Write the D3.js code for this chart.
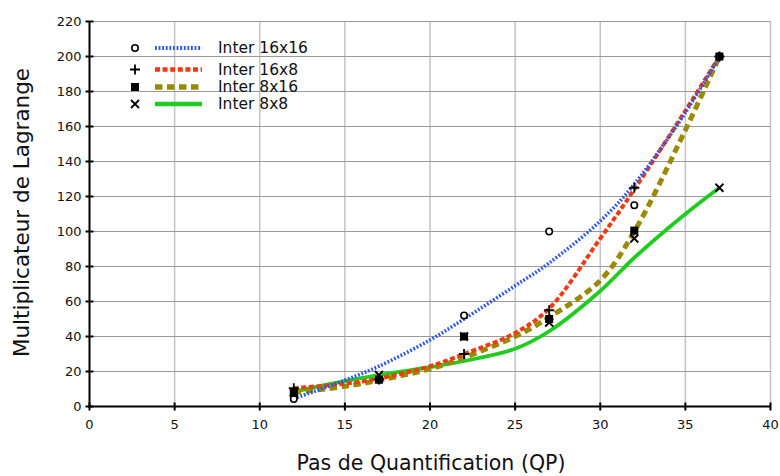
<!DOCTYPE html>
<html><head><meta charset="utf-8">
<script src="https://cdn.jsdelivr.net/npm/d3@7"></script>
<style>body{margin:0;background:#fff}svg{display:block}</style>
</head><body>
<svg id="c" width="780" height="476"></svg>
<script>
// Data
const seriesNames = ["Inter 16x16", "Inter 16x8", "Inter 8x16", "Inter 8x8"];
const qp = [12, 17, 22, 27, 32, 37];
const pts16x16 = [4.3, 15.5, 52, 100, 115, 200];
const pts16x8  = [10.5, 15.5, 30, 55, 125, 200];
const pts8x16  = [7.7, 15.3, 40, 50, 100.5, 200];
const pts8x8   = [8.0, 18, 40, 48, 96, 125];
// Fitted trend curves
const curveQP = [12, 15, 17, 20, 22, 25, 27, 30, 32, 35, 37];
const fit16x16 = [4.5, 15, 23, 38, 50, 69, 82, 106, 127, 168, 200];
const fit16x8  = [10.5, 13, 16, 23, 30, 42, 56, 96, 124, 169, 200];
const fit8x16  = [8, 11.5, 15, 21.5, 28, 40, 51, 72, 100, 158, 200];
const fit8x8   = [8.5, 14.5, 18, 22.5, 26, 33, 43, 66, 85, 110, 125];
const xTicks = [0, 5, 10, 15, 20, 25, 30, 35, 40];
const yTicks = [0, 20, 40, 60, 80, 100, 120, 140, 160, 180, 200, 220];

const svg = d3.select("#c");
const x = d3.scaleLinear().domain([0, 40]).range([89.5, 770.5]);
const y = d3.scaleLinear().domain([0, 220]).range([406.5, 21.5]);
const font = "'DejaVu Sans', sans-serif";

// grid
svg.append("g").selectAll("line").data(xTicks.filter(d => d > 0)).join("line")
  .attr("x1", d => x(d)).attr("x2", d => x(d)).attr("y1", y(0)).attr("y2", y(220))
  .attr("stroke", "#c4c4c4").attr("stroke-width", 1.5);
svg.append("g").selectAll("line").data(yTicks.filter(d => d > 0)).join("line")
  .attr("x1", x(0)).attr("x2", x(40)).attr("y1", d => y(d)).attr("y2", d => y(d))
  .attr("stroke", "#9a9a9a").attr("stroke-width", 1.2);

// axes
svg.append("line").attr("x1", x(0)).attr("x2", x(0)).attr("y1", y(0)+1).attr("y2", y(220))
  .attr("stroke", "#000").attr("stroke-width", 2);
svg.append("line").attr("x1", x(0)-1).attr("x2", x(40)).attr("y1", y(0)).attr("y2", y(0))
  .attr("stroke", "#000").attr("stroke-width", 2);
svg.append("g").selectAll("line").data(yTicks).join("line")
  .attr("x1", x(0)-4).attr("x2", x(0)+4).attr("y1", d => y(d)).attr("y2", d => y(d))
  .attr("stroke", "#000").attr("stroke-width", 2);
svg.append("g").selectAll("line").data(xTicks).join("line")
  .attr("x1", d => x(d)).attr("x2", d => x(d)).attr("y1", y(0)-4).attr("y2", y(0)+4)
  .attr("stroke", "#000").attr("stroke-width", 2);
svg.append("g").selectAll("text").data(yTicks).join("text")
  .attr("x", x(0)-8).attr("y", d => y(d)).attr("dy", "0.35em")
  .attr("text-anchor", "end").attr("font-family", font).attr("font-size", 13).attr("fill", "#111")
  .text(d => d);
svg.append("g").selectAll("text").data(xTicks).join("text")
  .attr("x", d => x(d)).attr("y", y(0)+22)
  .attr("text-anchor", "middle").attr("font-family", font).attr("font-size", 13).attr("fill", "#111")
  .text(d => d);
svg.append("text").attr("x", 431).attr("y", 470).attr("text-anchor", "middle")
  .attr("font-family", font).attr("font-size", 20.5).attr("fill", "#111")
  .text("Pas de Quantification (QP)");
svg.append("text").attr("transform", "translate(29,212.5) rotate(-90)").attr("text-anchor", "middle")
  .attr("font-family", font).attr("font-size", 21.5).attr("fill", "#111")
  .text("Multiplicateur de Lagrange");

// styles
const styles = [
  {color: "#2a55f0", width: 3.6, dash: "1.8 1.8", fit: fit16x16, pts: pts16x16, mark: "circle"},
  {color: "#f03a10", width: 4, dash: "5 2.6", fit: fit16x8, pts: pts16x8, mark: "plus"},
  {color: "#9a8a00", width: 5, dash: "7.5 4.5", fit: fit8x16, pts: pts8x16, mark: "square"},
  {color: "#1fcc1f", width: 3.8, dash: null, fit: fit8x8, pts: pts8x8, mark: "cross"}
];

const line = d3.line().x(d => x(d[0])).y(d => y(d[1])).curve(d3.curveCatmullRom.alpha(0.5));
const order = [3, 2, 1, 0];
order.forEach(i => {
  const s = styles[i];
  svg.append("path").datum(curveQP.map((q, k) => [q, s.fit[k]]))
    .attr("d", line).attr("fill", "none").attr("stroke", s.color)
    .attr("stroke-width", s.width).attr("stroke-dasharray", s.dash)
    .attr("stroke-linecap", "butt");
});

function marker(g, type, cx, cy) {
  if (type === "circle") {
    g.append("circle").attr("cx", cx).attr("cy", cy).attr("r", 3.2)
      .attr("fill", "#fff").attr("stroke", "#000").attr("stroke-width", 1.6);
  } else if (type === "plus") {
    g.append("path").attr("d", `M${cx-5},${cy}H${cx+5}M${cx},${cy-5}V${cy+5}`)
      .attr("stroke", "#000").attr("stroke-width", 1.8);
  } else if (type === "square") {
    g.append("rect").attr("x", cx-4).attr("y", cy-4).attr("width", 8).attr("height", 8).attr("fill", "#000");
  } else {
    g.append("path").attr("d", `M${cx-4},${cy-4}L${cx+4},${cy+4}M${cx-4},${cy+4}L${cx+4},${cy-4}`)
      .attr("stroke", "#000").attr("stroke-width", 1.8);
  }
}
const mg = svg.append("g");
[3, 0, 1, 2].forEach(i => {
  const s = styles[i];
  qp.forEach((q, k) => marker(mg, s.mark, x(q), y(s.pts[k])));
});

// legend
const legY = [48, 69.5, 87, 104];
const lg = svg.append("g");
styles.forEach((s, i) => {
  marker(lg, s.mark, 135, legY[i]);
  lg.append("line").attr("x1", 155).attr("x2", 202).attr("y1", legY[i]).attr("y2", legY[i])
    .attr("stroke", s.color).attr("stroke-width", s.width + 0.6).attr("stroke-dasharray", s.dash)
    .attr("stroke-linecap", "butt");
  lg.append("text").attr("x", 218).attr("y", legY[i]).attr("dy", "0.35em")
    .attr("font-family", font).attr("font-size", 15.5).attr("fill", "#111").text(seriesNames[i]);
});
</script>
</body></html>
